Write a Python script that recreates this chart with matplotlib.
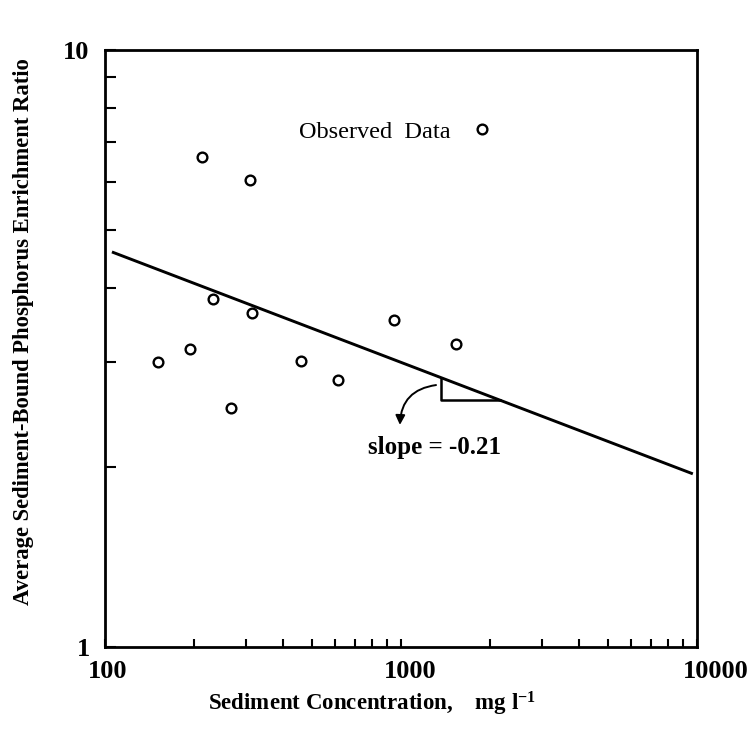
import numpy as np
import matplotlib
matplotlib.use('Agg')
import matplotlib.pyplot as plt
import matplotlib.transforms as mtrans
from matplotlib.ticker import LogLocator, NullFormatter, FixedLocator, FixedFormatter

plt.rcParams['font.family'] = ['Liberation Serif', 'DejaVu Serif']
plt.rcParams['mathtext.default'] = 'regular'

# observed data (sediment conc. mg/l, enrichment ratio)
conc = [151, 194, 213, 231, 266, 309, 313, 458, 614, 947, 1534]
ratio = [3.00, 3.16, 6.61, 3.83, 2.51, 6.06, 3.63, 3.01, 2.80, 3.53, 3.22]

# fitted line endpoints
fit_x = [106.7, 9594]
fit_y = [4.58, 1.954]

# slope triangle x extent
tri_x = [1365, 2160]

x_ticks = [100, 1000, 10000]
x_ticklabels = ['100', '1000', '10000']
y_ticks = [1, 10]
y_ticklabels = ['1', '10']


def fit_at(x):
    lx = np.log10(fit_x)
    ly = np.log10(fit_y)
    return 10 ** np.interp(np.log10(x), lx, ly)


fig = plt.figure(figsize=(7.52, 7.31), dpi=100)
ax = fig.add_axes([0.1396, 0.1149, 0.787, 0.8167])

ax.set_xscale('log')
ax.set_yscale('log')
ax.set_xlim(100, 10000)
ax.set_ylim(1, 10)

ax.plot(fit_x, fit_y, color='black', linewidth=2.1)
ax.plot(conc, ratio, linestyle='none', marker='o', markersize=7,
        markerfacecolor='white', markeredgecolor='black', markeredgewidth=1.7,
        label='Observed  Data')

# slope triangle
y_hi = fit_at(tri_x[0])
y_lo = fit_at(tri_x[1])
ax.plot([tri_x[0], tri_x[0], tri_x[1]], [y_hi, y_lo, y_lo], color='black', linewidth=1.8)

ax.annotate('', xy=(992, 2.33), xytext=(1343, 2.75),
            arrowprops=dict(arrowstyle='-|>', color='black', lw=1.4,
                            mutation_scale=14,
                            connectionstyle='arc3,rad=0.45'))
ax.text(1303, 2.16, 'slope = -0.21', ha='center', va='center',
        fontsize=18, fontweight='bold')

leg = ax.legend(loc='center right', bbox_to_anchor=(0.682, 0.863), frameon=False,
                markerfirst=False, fontsize=17.5, handletextpad=0.9,
                handlelength=0.8, borderpad=0.2)

for sp in ax.spines.values():
    sp.set_linewidth(2)

ax.xaxis.set_major_locator(FixedLocator(x_ticks))
ax.xaxis.set_major_formatter(FixedFormatter(x_ticklabels))
ax.xaxis.set_minor_locator(LogLocator(base=10, subs=np.arange(2, 10)))
ax.xaxis.set_minor_formatter(NullFormatter())
ax.yaxis.set_major_locator(FixedLocator(y_ticks))
ax.yaxis.set_major_formatter(FixedFormatter(y_ticklabels))
ax.yaxis.set_minor_locator(LogLocator(base=10, subs=np.arange(2, 10)))
ax.yaxis.set_minor_formatter(NullFormatter())

ax.tick_params(axis='x', which='both', direction='in', length=6, width=1.5,
               top=False, labelsize=19, pad=9)
ax.tick_params(axis='y', which='both', direction='in', length=8, width=1.5,
               right=False, labelsize=19, pad=11)
for lab in ax.get_xticklabels() + ax.get_yticklabels():
    lab.set_fontweight('bold')

# scanned labels sit a little right of their ticks
shifts = [3, 9, 19]
for lab, dx in zip(ax.get_xticklabels(), shifts):
    lab.set_transform(lab.get_transform() + mtrans.ScaledTranslation(dx / 100, 0, fig.dpi_scale_trans))

ax.set_xlabel('Sediment Concentration,    mg l$^{-1}$', fontsize=16.5,
              fontweight='bold')
ax.xaxis.set_label_coords(0.451, -0.072)
ax.set_ylabel('Average Sediment-Bound Phosphorus Enrichment Ratio', fontsize=16.3,
              fontweight='bold')
ax.yaxis.set_label_coords(-0.12, 0.528)

fig.savefig('out.png', dpi=100)
